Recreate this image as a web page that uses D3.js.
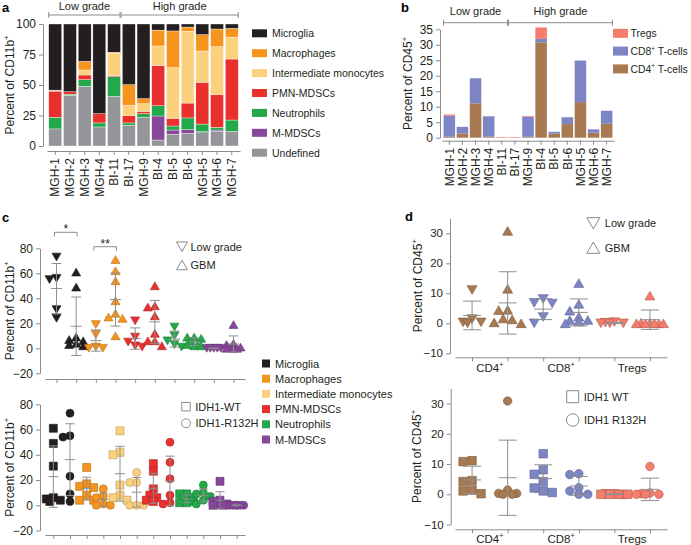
<!DOCTYPE html>
<html><head><meta charset="utf-8">
<script src="https://cdn.jsdelivr.net/npm/d3@7"></script>
<style>
html,body{margin:0;padding:0;background:#fff;}
svg{display:block;}
</style></head><body>
<svg id="fig" width="691" height="545"></svg>
<script>
// ---------- DATA ----------
const samples = ["MGH-1","MGH-2","MGH-3","MGH-4","BI-11","BI-17","MGH-9","BI-4","BI-5","BI-6","MGH-5","MGH-6","MGH-7"];
const lowGradeCount = 5;
const gradeLabels = ["Low grade","High grade"];
const cellTypes = ["Microglia","Macrophages","Intermediate monocytes","PMN-MDSCs","Neutrophils","M-MDSCs","Undefined"];
const cellColors = ["#231f20","#f7941d","#fbd17e","#e9302d","#23a84b","#87489b","#949598"];

// Panel a: percent of CD11b+ cells per sample
const microgliaPct    = [54.2,55.5,30.6,73.5,23.1,49.7,61.2,5.0,5.7,2.5,8.7,4.1,3.6];
const macrophagePct   = [0.3,0,7.1,0,0.8,17,4.1,13,30.1,3.5,13.4,14.5,7.1];
const intermediatePct = [0.5,0,4.1,0,18.3,8.4,6.3,16,41.5,58.8,25.7,39.4,18];
const pmnPct          = [21.5,2,3.8,7.6,1,6,1.9,33,6.3,12.2,34.2,26.7,50];
const neutrophilPct   = [9.5,1,5.4,3.3,16.2,1.9,3,8.4,3.3,9.6,6.3,2.2,9.3];
const mMdscPct        = [0,0,0,0,0,0,0,19.7,3.5,3,0.2,1.1,0];
const undefinedPct    = [14,41.5,49,15.6,40.6,17,23.5,4.9,9.6,10.4,11.5,12,12];

// Panel b: percent of CD45+ cells per sample
const tCellTypes = ["Tregs","CD8","CD4"];
const tCellColors = ["#f47d6b","#7c86c6","#a97a52"];
const cd4Pct  = [0.3,1.4,11.1,0.3,0,0,0.3,30.8,1.3,4.4,11.5,1.6,4.5];
const cd8Pct  = [6.8,2.1,8.1,6.6,0,0,6.5,1.1,0.6,2.2,13.4,1.1,4.2];
const tregPct = [0.4,0,0,0,0.2,0.2,0.2,3.7,0,0,0,0,0];

// Panel c (top): percent of CD11b+, low grade vs GBM
const cMicrogliaLow   = [73,56,55,31,24];
const cMicrogliaGBM   = [61,49,9,7,6,4,3,2];
const cMacrophageLow  = [19,11,1,0,0];
const cMacrophageGBM  = [71,62,54,38,28,25,24,10];
const cPmnLow         = [22,9,5,2,1];
const cPmnGBM         = [50,34,33,26,12,6,6,2];
const cNeutrophilLow  = [17,10,6,3,1];
const cNeutrophilGBM  = [9,9,8,6,3,3,2,2];
const cMmdscLow       = [0,0,0,0,0];
const cMmdscGBM       = [19,4,3,1,0.5,0,0,0];

// Panel c (bottom): percent of CD11b+, IDH1-WT vs IDH1-R132H
const eMicrogliaWT    = [61,49,31,6,5,4,3];
const eMicrogliaMut   = [73,55,54,23,9,3];
const eMacrophageWT   = [30,17,15,14,8,4,4];
const eMacrophageMut  = [13,7,6,1,0,0];
const eIntermedWT     = [59,42,40,16,8,6,4];
const eIntermedMut    = [26,18,18,0,0,0];
const ePmnWT          = [33,27,13,8,6,4,3];
const ePmnMut         = [50,34,21,8,2,1];
const eNeutrophilWT   = [9,9,6,5,3,2,2];
const eNeutrophilMut  = [16,10,9,7,4,1];
const eMmdscWT        = [19,4,3,1,0.5,0,0];
const eMmdscMut       = [0,0,0,0,0,0];

// Panel d (top): percent of CD45+, low grade vs GBM
const dCd4Low   = [11.1,1.4,0.3,0.3,0];
const dCd4GBM   = [30.8,11.5,4.5,4.4,1.6,1.3,0.3,0];
const dCd8Low   = [8.1,6.8,6.6,2.1,0];
const dCd8GBM   = [13.4,6.5,4.2,2.2,1.1,1.1,0.6,0];
const dTregLow  = [0.4,0.2,0,0,0];
const dTregGBM  = [9.2,0.2,0.2,0,0,0,0,0];

// Panel d (bottom): percent of CD45+, IDH1 WT vs IDH1 R132H
const fCd4WT    = [11.1,10.8,4.5,4.2,1.4,1.1,0.2];
const fCd4Mut   = [30.8,1.4,0.3,0.3,0,0];
const fCd8WT    = [13.4,8.1,6.6,4.2,2.1,1.1,0.6];
const fCd8Mut   = [6.8,6.5,2.2,1.1,0,0];
const fTregWT   = [0.2,0.2,0,0,0,0,0];
const fTregMut  = [9.2,0.4,0.2,0,0,0];

const cAxisTicks = [-20,0,20,40,60,80];
const dAxisTicks = [-10,0,10,20,30];
const dCategories = ["CD4","CD8","Tregs"];

// ---------- HELPERS ----------
const FONT = '"Liberation Sans", Arial, Helvetica, sans-serif';
const AX = "#8c8c8c", TXT = "#231f20", EB = "#8f8f8f";
const svg = d3.select("#fig").attr("font-family", FONT);
const colorOf = name => cellColors[cellTypes.indexOf(name)];

function richText(parent, x, y, parts, fs, opts = {}) {
  const t = parent.append("text").attr("x", x).attr("y", y)
    .attr("font-size", fs).attr("fill", TXT).attr("font-family", FONT);
  if (opts.anchor) t.attr("text-anchor", opts.anchor);
  if (opts.transform) t.attr("transform", opts.transform);
  if (opts.weight) t.attr("font-weight", opts.weight);
  let raised = false;
  parts.forEach(p => {
    const sup = Array.isArray(p) && p[1];
    const s = Array.isArray(p) ? p[0] : p;
    const ts = t.append("tspan").text(s);
    if (sup) { ts.attr("font-size", fs * 0.62).attr("dy", -fs * 0.42); raised = true; }
    else if (raised) { ts.attr("dy", fs * 0.42); raised = false; }
  });
  return t;
}
function styleAxis(g, fs) {
  g.attr("font-family", FONT).attr("font-size", fs);
  g.select("path.domain").attr("stroke", AX);
  g.selectAll(".tick line").attr("stroke", AX);
  g.selectAll(".tick text").attr("fill", TXT);
}
function shapePath(shape, s) {
  const h = s * 0.866, r = s / 2;
  if (shape === "up") return `M0,${-h/2}L${r},${h/2}L${-r},${h/2}Z`;
  if (shape === "down") return `M0,${h/2}L${r},${-h/2}L${-r},${-h/2}Z`;
  if (shape === "square") return `M${-r},${-r}h${s}v${s}h${-s}Z`;
  return `M${r},0A${r},${r} 0 1,1 ${-r},0A${r},${r} 0 1,1 ${r},0Z`;
}
function dodge(values, y, step, maxOff, coll) {
  const cands = [0];
  for (let k = step; k <= maxOff + 1e-6; k += step) cands.push(-k, k);
  const order = values.map((v, i) => i).sort((a, b) => values[b] - values[a]);
  const placed = [], offs = new Array(values.length);
  order.forEach(i => {
    const yy = y(values[i]);
    let best = 0, bestD = -1;
    for (const c of cands) {
      let md = Infinity;
      for (const p of placed) md = Math.min(md, Math.hypot(c - p.x, yy - p.y));
      if (md >= coll) { best = c; break; }
      if (md > bestD) { bestD = md; best = c; }
    }
    placed.push({ x: best, y: yy });
    offs[i] = best;
  });
  return offs;
}
function drawDots(g, groups, x, y, o) {
  groups.forEach(gr => {
    const cx = x(gr.key);
    const offs = dodge(gr.values, y, o.step, o.max, o.coll);
    g.append("g").selectAll("path").data(gr.values).join("path")
      .attr("d", shapePath(gr.shape, o.size))
      .attr("transform", (v, i) => `translate(${cx + offs[i]},${y(v)})`)
      .attr("fill", gr.color)
      .attr("stroke", d3.color(gr.color).darker(0.9))
      .attr("stroke-width", 0.6);
  });
  groups.forEach(gr => {
    const cx = x(gr.key);
    const m = d3.mean(gr.values), sd = d3.deviation(gr.values);
    const eg = g.append("g").attr("stroke", EB).attr("stroke-width", 1).attr("fill", "none");
    eg.append("line").attr("x1", cx).attr("x2", cx).attr("y1", y(m - sd)).attr("y2", y(m + sd));
    [m - sd, m + sd].forEach(v => eg.append("line").attr("x1", cx - o.cap/2).attr("x2", cx + o.cap/2).attr("y1", y(v)).attr("y2", y(v)));
    eg.append("line").attr("x1", cx - o.mean/2).attr("x2", cx + o.mean/2).attr("y1", y(m)).attr("y2", y(m));
  });
}
function yAxis(xPos, y, ticks, fs) {
  const g = svg.append("g").attr("transform", `translate(${xPos},0)`)
    .call(d3.axisLeft(y).tickValues(ticks).tickSize(4).tickSizeOuter(0).tickPadding(3));
  styleAxis(g, fs);
  return g;
}
function xAxisPlain(yPos, x) {
  const g = svg.append("g").attr("transform", `translate(0,${yPos})`)
    .call(d3.axisBottom(x).tickSize(4).tickSizeOuter(0).tickFormat(""));
  styleAxis(g, 11);
  return g;
}
function gradeBracket(x0, x1, yy, label, ty) {
  const g = svg.append("g").attr("stroke", AX).attr("stroke-width", 1);
  g.append("line").attr("x1", x0).attr("x2", x1).attr("y1", yy).attr("y2", yy);
  [x0, x1].forEach(xx => g.append("line").attr("x1", xx).attr("x2", xx).attr("y1", yy - 3).attr("y2", yy + 3));
  svg.append("text").attr("x", (x0 + x1) / 2).attr("y", ty).attr("text-anchor", "middle")
    .attr("font-size", 11).attr("fill", TXT).text(label);
}
function panelLetter(x, y, s) {
  svg.append("text").attr("x", x).attr("y", y).attr("font-size", 13).attr("font-weight", "bold")
    .attr("fill", "#000").text(s);
}
function openMarker(shape, cx, cy, s, label, fs, gap = 5) {
  svg.append("path").attr("d", shapePath(shape, s)).attr("transform", `translate(${cx},${cy})`)
    .attr("fill", "#fff").attr("stroke", "#8a8a8a").attr("stroke-width", 1);
  svg.append("text").attr("x", cx + s / 2 + gap).attr("y", cy + fs * 0.36).attr("font-size", fs)
    .attr("fill", TXT).text(label);
}

// ---------- PANEL A ----------
panelLetter(2, 12, "a");
const xA = d3.scaleBand().domain(samples).range([47, 240]).padding(0.12);
const yA = d3.scaleLinear().domain([0, 100]).range([146, 24]);
const rowsA = samples.map((s, i) => ({
  sample: s, "Microglia": microgliaPct[i], "Macrophages": macrophagePct[i],
  "Intermediate monocytes": intermediatePct[i], "PMN-MDSCs": pmnPct[i],
  "Neutrophils": neutrophilPct[i], "M-MDSCs": mMdscPct[i], "Undefined": undefinedPct[i]
}));
const stackA = d3.stack().keys(cellTypes.slice().reverse())(rowsA);
svg.append("g").selectAll("g").data(stackA).join("g").attr("fill", d => colorOf(d.key))
  .selectAll("rect").data(d => d).join("rect")
  .attr("x", d => xA(d.data.sample)).attr("width", xA.bandwidth())
  .attr("y", d => yA(d[1])).attr("height", d => Math.max(0, yA(d[0]) - yA(d[1])))
  .attr("stroke", "#fff").attr("stroke-width", 0.35);
yAxis(43, yA, [0, 25, 50, 75, 100], 12);
{
  const g = svg.append("g").attr("transform", "translate(0,151)")
    .call(d3.axisBottom(xA).tickSize(4).tickSizeOuter(0));
  styleAxis(g, 12);
  g.selectAll(".tick text").attr("transform", "rotate(-90)").attr("x", -7).attr("y", 0)
    .attr("dy", "0.35em").attr("text-anchor", "end");
}
richText(svg, 0, 0, ["Percent of CD11b", ["+", true]], 12,
  { anchor: "middle", transform: `translate(14,${(yA(0) + yA(100)) / 2}) rotate(-90)` });
{
  const lo0 = xA(samples[0]), lo1 = xA(samples[lowGradeCount - 1]) + xA.bandwidth();
  const hi1 = xA(samples[samples.length - 1]) + xA.bandwidth();
  gradeBracket(lo0, lo1 - 0.5, 15, gradeLabels[0], 10);
  gradeBracket(lo1 + 0.5, hi1, 15, gradeLabels[1], 10);
}
cellTypes.forEach((c, i) => {
  const cy = 33.3 + i * 19.9;
  svg.append("rect").attr("x", 252).attr("y", cy - 4).attr("width", 15).attr("height", 8).attr("fill", cellColors[i]);
  svg.append("text").attr("x", 272).attr("y", cy + 3.8).attr("font-size", 10.5).attr("fill", TXT).text(c);
});

// ---------- PANEL B ----------
panelLetter(401, 12, "b");
const xB = d3.scaleBand().domain(samples).range([442, 614]).padding(0.12);
const yB = d3.scaleLinear().domain([0, 35]).range([137.7, 29.3]);
const rowsB = samples.map((s, i) => ({ sample: s, CD4: cd4Pct[i], CD8: cd8Pct[i], Tregs: tregPct[i] }));
const stackB = d3.stack().keys(["CD4", "CD8", "Tregs"])(rowsB);
svg.append("g").selectAll("g").data(stackB).join("g")
  .attr("fill", d => tCellColors[tCellTypes.indexOf(d.key)])
  .selectAll("rect").data(d => d).join("rect")
  .attr("x", d => xB(d.data.sample)).attr("width", xB.bandwidth())
  .attr("y", d => yB(d[1])).attr("height", d => Math.max(0, yB(d[0]) - yB(d[1])));
yAxis(440, yB, d3.range(0, 36, 5), 12);
{
  const g = svg.append("g").attr("transform", "translate(0,140.7)")
    .call(d3.axisBottom(xB).tickSize(4).tickSizeOuter(0));
  styleAxis(g, 12);
  g.selectAll(".tick text").attr("transform", "rotate(-90)").attr("x", -7).attr("y", 0)
    .attr("dy", "0.35em").attr("text-anchor", "end");
}
richText(svg, 0, 0, ["Percent of CD45", ["+", true]], 12,
  { anchor: "middle", transform: `translate(412,${(yB(0) + yB(35)) / 2}) rotate(-90)` });
{
  const lo0 = xB(samples[0]), lo1 = xB(samples[lowGradeCount - 1]) + xB.bandwidth();
  const hi1 = xB(samples[samples.length - 1]) + xB.bandwidth();
  gradeBracket(lo0, lo1, 22.7, gradeLabels[0], 14.5);
  gradeBracket(lo1 + 1, hi1, 22.7, gradeLabels[1], 14.5);
}
{
  const labs = [["Tregs"], ["CD8", ["+", true], " T-cells"], ["CD4", ["+", true], " T-cells"]];
  tCellTypes.forEach((c, i) => {
    const cy = 33.3 + i * 17.8;
    svg.append("rect").attr("x", 613).attr("y", cy - 4.5).attr("width", 15).attr("height", 9).attr("fill", tCellColors[i]);
    richText(svg, 630.5, cy + 3.8, labs[i], 10.4);
  });
}

// ---------- PANEL C (top) ----------
panelLetter(2, 222, "c");
const cTopGroups = [
  { key: "Mic-L", values: cMicrogliaLow, color: colorOf("Microglia"), shape: "down" },
  { key: "Mic-G", values: cMicrogliaGBM, color: colorOf("Microglia"), shape: "up" },
  { key: "Mac-L", values: cMacrophageLow, color: colorOf("Macrophages"), shape: "down" },
  { key: "Mac-G", values: cMacrophageGBM, color: colorOf("Macrophages"), shape: "up" },
  { key: "PMN-L", values: cPmnLow, color: colorOf("PMN-MDSCs"), shape: "down" },
  { key: "PMN-G", values: cPmnGBM, color: colorOf("PMN-MDSCs"), shape: "up" },
  { key: "Neu-L", values: cNeutrophilLow, color: colorOf("Neutrophils"), shape: "down" },
  { key: "Neu-G", values: cNeutrophilGBM, color: colorOf("Neutrophils"), shape: "up" },
  { key: "MM-L", values: cMmdscLow, color: colorOf("M-MDSCs"), shape: "down" },
  { key: "MM-G", values: cMmdscGBM, color: colorOf("M-MDSCs"), shape: "up" }
];
const xC1 = d3.scalePoint().domain(cTopGroups.map(d => d.key)).range([45, 245]).padding(0.585);
const yC1 = d3.scaleLinear().domain([-20, 80]).range([373.3, 248.3]);
yAxis(40, yC1, cAxisTicks, 12);
xAxisPlain(379, xC1);
drawDots(svg.append("g"), cTopGroups, xC1, yC1, { size: 9, step: 3.5, max: 7, coll: 7, cap: 10, mean: 11 });
richText(svg, 0, 0, ["Percent of CD11b", ["+", true]], 12,
  { anchor: "middle", transform: `translate(14,${(yC1(-20) + yC1(80)) / 2}) rotate(-90)` });
function sigBracket(k0, k1, yy, label) {
  const x0 = xC1(k0) - 2, x1 = xC1(k1) + 1;
  svg.append("path").attr("d", `M${x0},${yy + 4}V${yy}H${x1}V${yy + 4}`)
    .attr("fill", "none").attr("stroke", AX).attr("stroke-width", 1);
  svg.append("text").attr("x", (x0 + x1) / 2).attr("y", yy + 1).attr("text-anchor", "middle")
    .attr("font-size", 12).attr("fill", TXT).text(label);
}
sigBracket("Mic-L", "Mic-G", 232.3, "*");
sigBracket("Mac-L", "Mac-G", 246.7, "**");
openMarker("down", 182, 246.7, 11, "Low grade", 11, 3);
openMarker("up", 182, 265, 11, "GBM", 11, 3);

// middle legend
cellTypes.slice(0, 6).forEach((c, i) => {
  const cy = 363.5 + i * 15.2;
  svg.append("rect").attr("x", 262).attr("y", cy - 4).attr("width", 8).attr("height", 8).attr("fill", cellColors[i]);
  svg.append("text").attr("x", 275).attr("y", cy + 4).attr("font-size", 11).attr("fill", TXT).text(c);
});

// ---------- PANEL C (bottom) ----------
const cBotGroups = [
  { key: "Mic-W", values: eMicrogliaWT, color: colorOf("Microglia"), shape: "square" },
  { key: "Mic-M", values: eMicrogliaMut, color: colorOf("Microglia"), shape: "circle" },
  { key: "Mac-W", values: eMacrophageWT, color: colorOf("Macrophages"), shape: "square" },
  { key: "Mac-M", values: eMacrophageMut, color: colorOf("Macrophages"), shape: "circle" },
  { key: "Int-W", values: eIntermedWT, color: colorOf("Intermediate monocytes"), shape: "square" },
  { key: "Int-M", values: eIntermedMut, color: colorOf("Intermediate monocytes"), shape: "circle" },
  { key: "PMN-W", values: ePmnWT, color: colorOf("PMN-MDSCs"), shape: "square" },
  { key: "PMN-M", values: ePmnMut, color: colorOf("PMN-MDSCs"), shape: "circle" },
  { key: "Neu-W", values: eNeutrophilWT, color: colorOf("Neutrophils"), shape: "square" },
  { key: "Neu-M", values: eNeutrophilMut, color: colorOf("Neutrophils"), shape: "circle" },
  { key: "MM-W", values: eMmdscWT, color: colorOf("M-MDSCs"), shape: "square" },
  { key: "MM-M", values: eMmdscMut, color: colorOf("M-MDSCs"), shape: "circle" }
];
const xC2 = d3.scalePoint().domain(cBotGroups.map(d => d.key)).range([45, 245]).padding(0.5);
const yC2 = d3.scaleLinear().domain([-20, 80]).range([530.5, 404.3]);
yAxis(40, yC2, cAxisTicks, 12);
xAxisPlain(535, xC2);
drawDots(svg.append("g"), cBotGroups, xC2, yC2, { size: 8, step: 3.5, max: 7, coll: 7, cap: 9, mean: 10 });
richText(svg, 0, 0, ["Percent of CD11b", ["+", true]], 12,
  { anchor: "middle", transform: `translate(14,${(yC2(-20) + yC2(80)) / 2}) rotate(-90)` });
openMarker("square", 186, 406.7, 8.5, "IDH1-WT", 11);
openMarker("circle", 186, 423.3, 9, "IDH1-R132H", 11);

// ---------- PANEL D (top) ----------
panelLetter(405, 221, "d");
const dTopGroups = [
  { key: "CD4-L", values: dCd4Low, color: tCellColors[2], shape: "down" },
  { key: "CD4-G", values: dCd4GBM, color: tCellColors[2], shape: "up" },
  { key: "CD8-L", values: dCd8Low, color: tCellColors[1], shape: "down" },
  { key: "CD8-G", values: dCd8GBM, color: tCellColors[1], shape: "up" },
  { key: "Treg-L", values: dTregLow, color: tCellColors[0], shape: "down" },
  { key: "Treg-G", values: dTregGBM, color: tCellColors[0], shape: "up" }
];
const xD1 = d3.scalePoint().domain(dTopGroups.map(d => d.key)).range([455, 667]).padding(0.48);
const yD1 = d3.scaleLinear().domain([-10, 35]).range([353.3, 218.3]);
yAxis(450, yD1, dAxisTicks, 11.5);
xAxisPlain(357.3, xD1);
drawDots(svg.append("g"), dTopGroups, xD1, yD1, { size: 10, step: 4.5, max: 13.5, coll: 9, cap: 18, mean: 18 });
richText(svg, 0, 0, ["Percent of CD45", ["+", true]], 12,
  { anchor: "middle", transform: `translate(422,${(yD1(-10) + yD1(35)) / 2}) rotate(-90)` });
function dCatLabels(x, keys, yy) {
  const labs = [["CD4", ["+", true]], ["CD8", ["+", true]], ["Tregs"]];
  dCategories.forEach((c, i) => {
    const mx = (x(keys[2 * i]) + x(keys[2 * i + 1])) / 2;
    richText(svg, mx, yy, labs[i], 11.5, { anchor: "middle" });
  });
}
dCatLabels(xD1, dTopGroups.map(d => d.key), 372);
openMarker("down", 593.3, 223.3, 13, "Low grade", 11);
openMarker("up", 593.3, 247.7, 13, "GBM", 11);

// ---------- PANEL D (bottom) ----------
const dBotGroups = [
  { key: "CD4-W", values: fCd4WT, color: tCellColors[2], shape: "square" },
  { key: "CD4-M", values: fCd4Mut, color: tCellColors[2], shape: "circle" },
  { key: "CD8-W", values: fCd8WT, color: tCellColors[1], shape: "square" },
  { key: "CD8-M", values: fCd8Mut, color: tCellColors[1], shape: "circle" },
  { key: "Treg-W", values: fTregWT, color: tCellColors[0], shape: "square" },
  { key: "Treg-M", values: fTregMut, color: tCellColors[0], shape: "circle" }
];
const xD2 = d3.scalePoint().domain(dBotGroups.map(d => d.key)).range([455, 667]).padding(0.48);
const yD2 = d3.scaleLinear().domain([-10, 35]).range([524.6, 388.3]);
yAxis(450.7, yD2, dAxisTicks, 11.5);
xAxisPlain(529.3, xD2);
drawDots(svg.append("g"), dBotGroups, xD2, yD2, { size: 8.5, step: 4.5, max: 13.5, coll: 9, cap: 18, mean: 18 });
richText(svg, 0, 0, ["Percent of CD45", ["+", true]], 12,
  { anchor: "middle", transform: `translate(421,${(yD2(-10) + yD2(35)) / 2}) rotate(-90)` });
dCatLabels(xD2, dBotGroups.map(d => d.key), 542.5);
openMarker("square", 572.7, 396.7, 12, "IDH1 WT", 11);
openMarker("circle", 572.7, 420, 12.5, "IDH1 R132H", 11);
</script>
</body></html>
